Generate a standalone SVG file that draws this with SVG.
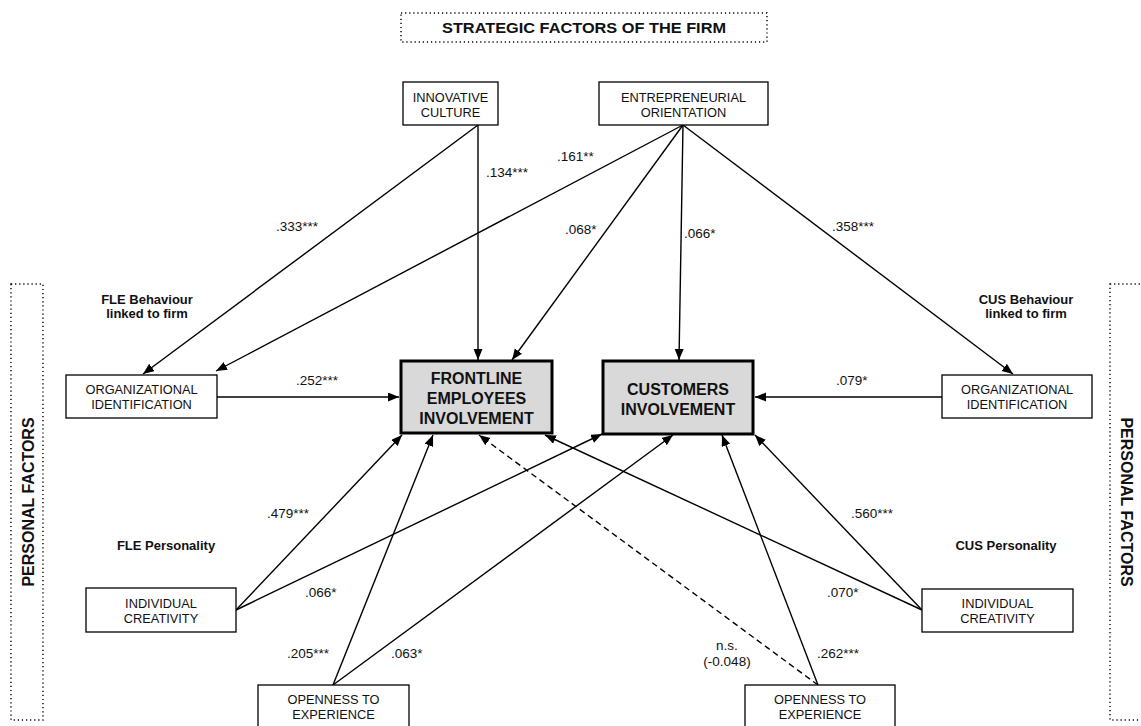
<svg xmlns="http://www.w3.org/2000/svg" width="1141" height="726" viewBox="0 0 1141 726">
  <style>
    .box { fill: #ffffff; stroke: #000000; stroke-width: 1.3; }
    .core { fill: #d9d9d9; stroke: #000000; stroke-width: 3; }
    .group { fill: none; stroke: #000000; stroke-width: 1.4; stroke-dasharray: 1.2 2.9; }
    .lbl { font-family: "Liberation Sans", Arial, sans-serif; font-size: 12.8px; fill: #111111; text-anchor: middle; }
    .coef { font-family: "Liberation Sans", Arial, sans-serif; font-size: 13.5px; fill: #111111; }
    .core-t { font-family: "Liberation Sans", Arial, sans-serif; font-size: 16px; font-weight: bold; fill: #111111; text-anchor: middle; }
    .head { font-family: "Liberation Sans", Arial, sans-serif; font-size: 13px; font-weight: bold; fill: #111111; text-anchor: middle; }
    .title { font-family: "Liberation Sans", Arial, sans-serif; font-size: 15px; font-weight: bold; fill: #111111; text-anchor: middle; }
    .edge { fill: none; stroke: #000000; stroke-width: 1.4; marker-end: url(#arrow); }
    .dashed { stroke-dasharray: 6 4; }
  </style>
  <defs>
    <marker id="arrow" markerUnits="userSpaceOnUse" markerWidth="12" markerHeight="10" refX="11" refY="4.5" orient="auto">
      <path d="M0,0 L11,4.5 L0,9 Z" fill="#000000"/>
    </marker>
  </defs>

  <rect width="1141" height="726" fill="#ffffff"/>

  <!-- group frames -->
  <g id="strategic-factors">
    <rect class="group" x="401" y="13" width="366" height="29"/>
    <text class="title" x="584" y="33" textLength="284" lengthAdjust="spacingAndGlyphs">STRATEGIC FACTORS OF THE FIRM</text>
  </g>
  <g id="personal-factors-left">
    <rect class="group" x="11" y="284" width="32" height="436"/>
    <text class="core-t" transform="translate(33.5,502) rotate(-90)">PERSONAL FACTORS</text>
  </g>
  <g id="personal-factors-right">
    <rect class="group" x="1110" y="284" width="40" height="436"/>
    <text class="core-t" transform="translate(1121,502) rotate(90)">PERSONAL FACTORS</text>
  </g>

  <!-- section headings -->
  <g id="headings">
    <text class="head" x="147" y="304">FLE Behaviour</text>
    <text class="head" x="147" y="318">linked to firm</text>
    <text class="head" x="1026" y="304">CUS Behaviour</text>
    <text class="head" x="1026" y="318">linked to firm</text>
    <text class="head" x="166" y="550">FLE Personality</text>
    <text class="head" x="1006" y="550">CUS Personality</text>
  </g>

  <!-- connectors -->
  <g id="connectors">
    <line class="edge" x1="478" y1="125" x2="143" y2="374"/>
    <line class="edge" x1="478" y1="125" x2="478" y2="360"/>
    <line class="edge" x1="683" y1="125" x2="216" y2="371"/>
    <line class="edge" x1="683" y1="125" x2="512" y2="360"/>
    <line class="edge" x1="683" y1="125" x2="679" y2="360"/>
    <line class="edge" x1="683" y1="125" x2="1013" y2="374"/>
    <line class="edge" x1="217" y1="397" x2="399" y2="397"/>
    <line class="edge" x1="942" y1="397" x2="755" y2="397"/>
    <line class="edge" x1="236" y1="610" x2="402" y2="435"/>
    <line class="edge" x1="236" y1="610" x2="602" y2="434"/>
    <line class="edge" x1="333" y1="685" x2="433" y2="435"/>
    <line class="edge" x1="333" y1="685" x2="673" y2="435"/>
    <line class="edge" x1="922" y1="610" x2="755" y2="435"/>
    <line class="edge" x1="922" y1="610" x2="545" y2="435"/>
    <line class="edge" x1="818" y1="685" x2="722" y2="435"/>
    <line class="edge dashed" x1="818" y1="685" x2="479" y2="435"/>
  </g>

  <!-- path coefficients -->
  <g id="coefficients">
    <text class="coef" x="276" y="231">.333***</text>
    <text class="coef" x="486" y="177">.134***</text>
    <text class="coef" x="557" y="161">.161**</text>
    <text class="coef" x="565" y="234">.068*</text>
    <text class="coef" x="684" y="238">.066*</text>
    <text class="coef" x="832" y="231">.358***</text>
    <text class="coef" x="296" y="385">.252***</text>
    <text class="coef" x="836" y="385">.079*</text>
    <text class="coef" x="267" y="518">.479***</text>
    <text class="coef" x="305" y="597">.066*</text>
    <text class="coef" x="287" y="658">.205***</text>
    <text class="coef" x="391" y="658">.063*</text>
    <text class="coef" x="851" y="518">.560***</text>
    <text class="coef" x="827" y="597">.070*</text>
    <text class="coef" x="817" y="658">.262***</text>
    <text class="coef" x="727" y="650" text-anchor="middle">n.s.</text>
    <text class="coef" x="727" y="666" text-anchor="middle">(-0.048)</text>
  </g>

  <!-- nodes -->
  <g id="innovative-culture">
    <rect class="box" x="403" y="82" width="95" height="43"/>
    <text class="lbl" x="450.5" y="101.5">INNOVATIVE</text>
    <text class="lbl" x="450.5" y="116.5">CULTURE</text>
  </g>
  <g id="entrepreneurial-orientation">
    <rect class="box" x="599" y="82" width="169" height="43"/>
    <text class="lbl" x="683.5" y="101.5">ENTREPRENEURIAL</text>
    <text class="lbl" x="683.5" y="116.5">ORIENTATION</text>
  </g>
  <g id="fle-org-identification">
    <rect class="box" x="66" y="375" width="151" height="43"/>
    <text class="lbl" x="141.5" y="393.5">ORGANIZATIONAL</text>
    <text class="lbl" x="141.5" y="408.5">IDENTIFICATION</text>
  </g>
  <g id="cus-org-identification">
    <rect class="box" x="942" y="375" width="150" height="43"/>
    <text class="lbl" x="1017" y="393.5">ORGANIZATIONAL</text>
    <text class="lbl" x="1017" y="408.5">IDENTIFICATION</text>
  </g>
  <g id="fle-involvement">
    <rect class="core" x="401" y="361" width="151" height="72"/>
    <text class="core-t" x="476.5" y="384">FRONTLINE</text>
    <text class="core-t" x="476.5" y="404">EMPLOYEES</text>
    <text class="core-t" x="476.5" y="424">INVOLVEMENT</text>
  </g>
  <g id="customers-involvement">
    <rect class="core" x="603" y="361" width="150" height="73"/>
    <text class="core-t" x="678" y="395">CUSTOMERS</text>
    <text class="core-t" x="678" y="415">INVOLVEMENT</text>
  </g>
  <g id="fle-creativity">
    <rect class="box" x="86" y="588" width="150" height="44"/>
    <text class="lbl" x="161" y="607.5">INDIVIDUAL</text>
    <text class="lbl" x="161" y="622.5">CREATIVITY</text>
  </g>
  <g id="cus-creativity">
    <rect class="box" x="922" y="589" width="151" height="43"/>
    <text class="lbl" x="997.5" y="607.5">INDIVIDUAL</text>
    <text class="lbl" x="997.5" y="622.5">CREATIVITY</text>
  </g>
  <g id="fle-openness">
    <rect class="box" x="258" y="685" width="151" height="45"/>
    <text class="lbl" x="333.5" y="703.5">OPENNESS TO</text>
    <text class="lbl" x="333.5" y="718.5">EXPERIENCE</text>
  </g>
  <g id="cus-openness">
    <rect class="box" x="745" y="685" width="150" height="45"/>
    <text class="lbl" x="820" y="703.5">OPENNESS TO</text>
    <text class="lbl" x="820" y="718.5">EXPERIENCE</text>
  </g>
</svg>
